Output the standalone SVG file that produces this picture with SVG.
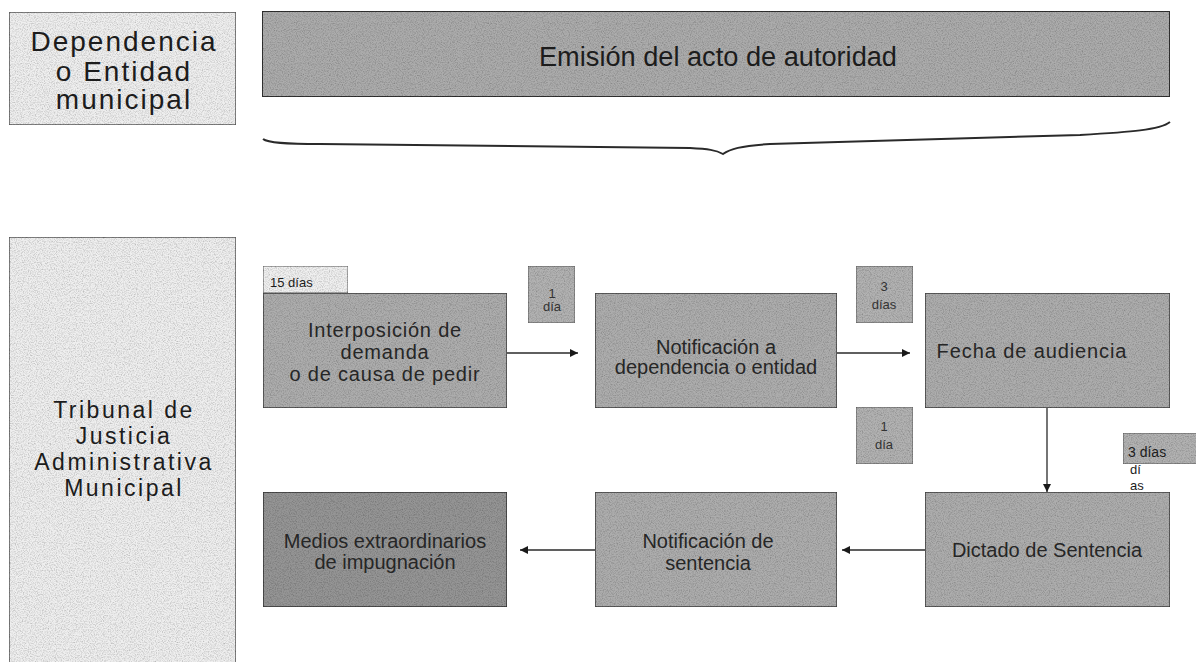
<svg xmlns="http://www.w3.org/2000/svg" width="1196" height="662" viewBox="0 0 1196 662">
<style>
.lane{fill:#efefef;stroke:#5a5a5a;stroke-width:1.5}
.band{fill:#acacac;stroke:#333;stroke-width:2}
.box{fill:#adadad;stroke:#3f3f3f;stroke-width:1.5}
.dark{fill:#959595;stroke:#333;stroke-width:1.5}
.tag{fill:#b2b2b2;stroke:#5a5a5a;stroke-width:1}
.tab{fill:#f0f0f0;stroke:#5a5a5a;stroke-width:1}
.g{filter:url(#grain)}
text{font-family:"Liberation Sans",Arial,sans-serif;fill:#1c1c1c}
.lt{font-size:28px;letter-spacing:2px;text-anchor:middle}
.tt{font-size:23px;letter-spacing:2.5px;text-anchor:middle}
.bt{font-size:20px;text-anchor:middle;fill:#262626}
.st{font-size:13px;text-anchor:middle;fill:#333}
.conn{stroke:#2a2a2a;stroke-width:1.3;fill:none}
</style>
<defs>
<filter id="grain" x="0" y="0" width="100%" height="100%" filterUnits="objectBoundingBox">
<feTurbulence type="fractalNoise" baseFrequency="0.85" numOctaves="2" seed="7" result="n"/>
<feColorMatrix in="n" type="matrix" values="0 0 0 0 0  0 0 0 0 0  0 0 0 0 0  0.9 0 0 0 -0.36" result="a"/>
<feComposite in="a" in2="SourceGraphic" operator="in" result="s"/>
<feMerge><feMergeNode in="SourceGraphic"/><feMergeNode in="s"/></feMerge>
</filter>
<marker id="ah" viewBox="0 0 10 10" refX="10" refY="5" markerWidth="8" markerHeight="8" markerUnits="userSpaceOnUse" orient="auto">
<path d="M0,0 L10,5 L0,10 z" fill="#1a1a1a"/>
</marker>
</defs>

<g id="lane-dependencia">
<rect class="lane g" x="9" y="12" width="227" height="113"/>
<text class="lt" x="124" y="51">Dependencia</text>
<text class="lt" x="124" y="81">o Entidad</text>
<text class="lt" x="124" y="109">municipal</text>
</g>

<g id="emision">
<rect class="band g" x="262" y="11" width="908" height="86"/>
<text x="718" y="66" font-size="27" text-anchor="middle" textLength="358" lengthAdjust="spacingAndGlyphs">Emisión del acto de autoridad</text>
</g>

<g id="brace">
<path d="M263,139 C268,143 285,144 320,144 L690,148 C708,149 716,150 723,154 C730,149 740,146 770,144 L1080,135 C1130,132 1160,130 1170,122" fill="none" stroke="#2a2a2a" stroke-width="2"/>
</g>

<g id="lane-tribunal">
<rect class="lane g" x="9" y="237" width="227" height="440"/>
<text class="tt" x="124" y="418">Tribunal de</text>
<text class="tt" x="124" y="444">Justicia</text>
<text class="tt" x="124" y="470">Administrativa</text>
<text class="tt" x="124" y="496">Municipal</text>
</g>

<g id="tag-15dias">
<rect class="tab g" x="263" y="266" width="85" height="27"/>
<text x="270" y="287" font-size="13" fill="#333">15 días</text>
</g>

<g id="interposicion">
<rect class="box g" x="263" y="293" width="244" height="115"/>
<text class="bt" x="385" y="337" letter-spacing="0.8">Interposición de</text>
<text class="bt" x="385" y="359" letter-spacing="0.8">demanda</text>
<text class="bt" x="385" y="381" letter-spacing="0.8">o de causa de pedir</text>
</g>

<g id="tag-1dia-a">
<rect class="tag g" x="528" y="266" width="47" height="57"/>
<text class="st" x="552" y="298">1</text>
<text class="st" x="552" y="311">día</text>
</g>

<g id="notificacion-a">
<rect class="box g" x="595" y="293" width="242" height="115"/>
<text class="bt" x="716" y="354">Notificación a</text>
<text class="bt" x="716" y="374">dependencia o entidad</text>
</g>

<g id="tag-3dias-a">
<rect class="tag g" x="856" y="266" width="57" height="57"/>
<text class="st" x="884" y="291">3</text>
<text class="st" x="884" y="309">días</text>
</g>

<g id="fecha">
<rect class="box g" x="925" y="293" width="245" height="115"/>
<text class="bt" x="1032" y="358" font-size="21" letter-spacing="0.9">Fecha de audiencia</text>
</g>

<g id="tag-1dia-b">
<rect class="tag g" x="856" y="407" width="57" height="57"/>
<text class="st" x="884" y="431">1</text>
<text class="st" x="884" y="449">día</text>
</g>

<g id="tag-3dias-b">
<rect class="tag g" x="1123" y="433" width="75" height="31"/>
<text x="1128" y="457" font-size="14" fill="#333">3 días</text>
<text x="1130" y="474" font-size="13" fill="#333">dí</text>
<text x="1130" y="490" font-size="13" fill="#333">as</text>
</g>

<g id="dictado">
<rect class="box g" x="925" y="492" width="245" height="115"/>
<text class="bt" x="1047" y="557">Dictado de Sentencia</text>
</g>

<g id="notificacion-sentencia">
<rect class="box g" x="595" y="492" width="242" height="115"/>
<text class="bt" x="708" y="548">Notificación de</text>
<text class="bt" x="708" y="570">sentencia</text>
</g>

<g id="medios">
<rect class="dark g" x="263" y="492" width="244" height="115"/>
<text class="bt" x="385" y="548">Medios extraordinarios</text>
<text class="bt" x="385" y="569">de impugnación</text>
</g>

<g id="connectors">
<line class="conn" x1="507" y1="353" x2="578" y2="353" marker-end="url(#ah)"/>
<line class="conn" x1="837" y1="353" x2="910" y2="353" marker-end="url(#ah)"/>
<line class="conn" x1="1047" y1="408" x2="1047" y2="492" marker-end="url(#ah)"/>
<line class="conn" x1="925" y1="550" x2="842" y2="550" marker-end="url(#ah)"/>
<line class="conn" x1="595" y1="550" x2="520" y2="550" marker-end="url(#ah)"/>
</g>
</svg>
